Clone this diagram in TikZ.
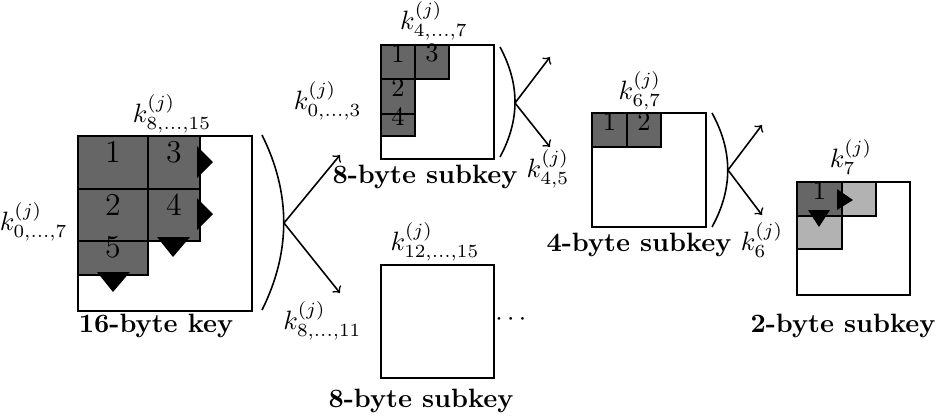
\documentclass[tikz,border=0pt]{standalone}
\usepackage{amsmath}
\usetikzlibrary{positioning,fit}

\begin{document}
\begin{tikzpicture}[x=0.377pt,y=-0.377pt,
  keybox/.style={draw,line width=1pt,inner sep=0pt},
  cell/.style={draw,fill=black!60,inner sep=0pt,line width=0.4pt},
  lightcell/.style={cell,fill=black!30},
  brace/.style={semithick},
  split/.style={semithick,->},
  title/.style={font=\bfseries},
  tri/.style={fill=black}]
\useasboundingbox (0,0) rectangle (942,416);

% 16-byte key
\node[cell,font=\large,fit={(78,136) (148,189)}] (b1) {1};
\node[cell,font=\large,fit={(148,136) (200,189)}] (b3) {3};
\node[cell,font=\large,fit={(78,189) (148,241)}] (b2) {2};
\node[cell,font=\large,fit={(148,189) (200,241)}] (b4) {4};
\node[cell,font=\large,fit={(78,241) (148,275)}] (b5) {5};
\fill[tri] (197,146) -- (213,162) -- (197,178) -- cycle;
\fill[tri] (197,198) -- (213,214) -- (197,230) -- cycle;
\fill[tri] (157,237) -- (190,237) -- (173,257) -- cycle;
\fill[tri] (97,272) -- (130,272) -- (113,292) -- cycle;
\node[keybox,fit={(78,136) (252,311)}] (key16) {};
\node at (172,114) (k16top) {$k^{(j)}_{8,\dots,15}$};
\node[anchor=east] at (77,222) (k16left) {$k^{(j)}_{0,\dots,7}$};
\node[title] at (156,326) (t16) {16-byte key};

% first split
\coordinate (br1t) at (262,135);
\coordinate (br1m) at (284,223);
\coordinate (br1b) at (262,310);
\coordinate (up1) at (340,155);
\coordinate (dn1) at (340,293);
\draw[brace] (br1t) .. controls (291,193) and (291,252) .. (br1b);
\draw[split] (br1m) -- (up1);
\draw[split] (br1m) -- (dn1);

% upper 8-byte subkey
\node[cell,fit={(381,45) (415,79)}] (s1) {1};
\node[cell,fit={(415,45) (449,79)}] (s3) {3};
\node[cell,fit={(381,79) (415,114)}] (s2) {2};
\node[cell,fit={(381,114) (415,136)}] (s4) {4};
\node[keybox,fit={(381,45) (494,159)}] (key8a) {};
\node at (434,21) (k8atop) {$k^{(j)}_{4,\dots,7}$};
\node[anchor=east] at (371,101) (k8aleft) {$k^{(j)}_{0,\dots,3}$};
\node[title] at (425,177) (t8a) {8-byte subkey};

% lower 8-byte subkey
\node[keybox,fit={(381,265) (494,378)}] (key8b) {};
\node at (435,242) (k8btop) {$k^{(j)}_{12,\dots,15}$};
\node[anchor=east] at (371,321) (k8bleft) {$k^{(j)}_{8,\dots,11}$};
\node at (513,320) (more) {$\cdots$};
\node[title] at (421,401) (t8b) {8-byte subkey};

% second split
\coordinate (br2t) at (500,47);
\coordinate (br2m) at (515,103);
\coordinate (br2b) at (500,157);
\coordinate (up2) at (550,57);
\coordinate (dn2) at (550,147);
\draw[brace] (br2t) .. controls (520,84) and (520,120) .. (br2b);
\draw[split] (br2m) -- (up2);
\draw[split] (br2m) -- (dn2);
\node at (548,169) (k45) {$k^{(j)}_{4,5}$};

% 4-byte subkey
\node[cell,fit={(592,113) (627,147)}] (f1) {1};
\node[cell,fit={(627,113) (661,147)}] (f2) {2};
\node[keybox,fit={(592,113) (706,227)}] (key4) {};
\node at (640,91) (k4top) {$k^{(j)}_{6,7}$};
\node[title] at (639,245) (t4) {4-byte subkey};

% third split
\coordinate (br3t) at (712,113);
\coordinate (br3m) at (728,170);
\coordinate (br3b) at (712,227);
\coordinate (up3) at (762,125);
\coordinate (dn3) at (762,215);
\draw[brace] (br3t) .. controls (733,151) and (733,189) .. (br3b);
\draw[split] (br3m) -- (up3);
\draw[split] (br3m) -- (dn3);
\node at (762,240) (k6) {$k^{(j)}_{6}$};

% 2-byte subkey
\node[lightcell,fit={(842,182) (876,216)}] (w2) {};
\node[lightcell,fit={(797,216) (842,249)}] (w3) {};
\node[cell,fit={(797,182) (842,216)}] (w1) {1};
\fill[tri] (837,189) -- (853,200) -- (837,210) -- cycle;
\fill[tri] (808,210) -- (830,210) -- (819,227) -- cycle;
\node[keybox,fit={(797,182) (910,295)}] (key2) {};
\node at (851,157) (k7) {$k^{(j)}_{7}$};
\node[title] at (843,326) (t2) {2-byte subkey};
\end{tikzpicture}
\end{document}
